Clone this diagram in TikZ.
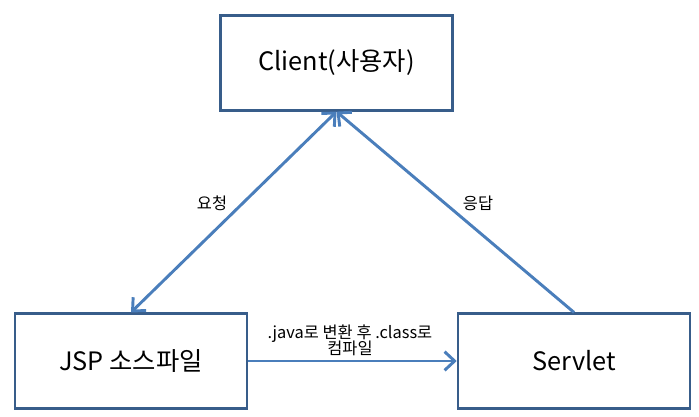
\documentclass[tikz,border=0pt]{standalone}
\usepackage{fontspec}
\setmainfont{Noto Sans CJK KR}
\usetikzlibrary{arrows.meta}

\definecolor{boxblue}{HTML}{385D8A}
\definecolor{arrowblue}{HTML}{4A7EBB}

\begin{document}
\begin{tikzpicture}[x=0.75pt,y=-0.75pt,
    box/.style={draw=boxblue,line width=1.9pt,minimum width=174pt,minimum height=71pt,inner sep=0pt,font=\fontsize{19}{23}\selectfont},
    flow/.style={draw=arrowblue,line width=2.2pt,arrows={-Straight Barb[length=7.5pt,width=14pt]}},
    lbl/.style={font=\fontsize{12.3}{14}\selectfont,align=center}]

    \useasboundingbox (0,0) rectangle (699,417);

    % Place the boxes
    \node[box] (client)  at (336.5,63)  {Client(사용자)};
    \node[box] (jsp)     at (131,361)   {JSP 소스파일};
    \node[box] (servlet) at (574,361)   {Servlet};

    % Place the labels
    \node[lbl] (req)  at (212,203) {요청};
    \node[lbl] (resp) at (478,203) {응답};
    \node[lbl] (comp) at (350,340) {.java로 변환 후 .class로\\[-2pt]컴파일};

    % Draw the arrows
    \draw[flow,arrows={Straight Barb[length=7.5pt,width=14pt]-Straight Barb[length=7.5pt,width=14pt]}] (client.south) -- (jsp.north);
    \draw[flow] (servlet.north) -- (client.south);
    \draw[flow] (jsp.east) -- (servlet.west);

\end{tikzpicture}
\end{document}
